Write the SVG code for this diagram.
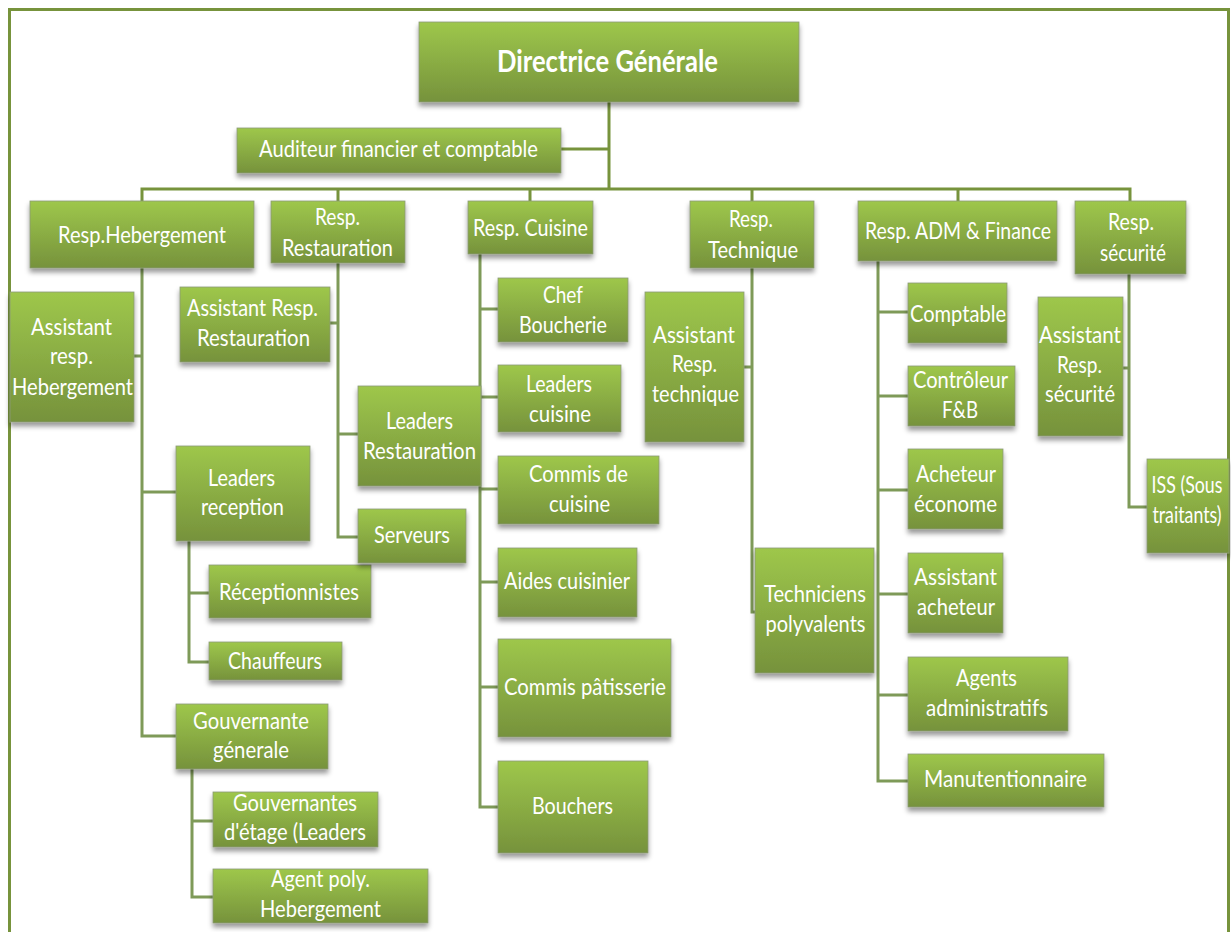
<svg xmlns="http://www.w3.org/2000/svg" width="1231" height="932" viewBox="0 0 1231 932">
<defs>
<linearGradient id="g" x1="0" y1="0" x2="0" y2="1">
<stop offset="0" stop-color="#9EC74B"/>
<stop offset="1" stop-color="#76923C"/>
</linearGradient>
<filter id="sh" x="-10%" y="-10%" width="120%" height="140%">
<feDropShadow dx="0" dy="4" stdDeviation="2.5" flood-color="#000" flood-opacity="0.4"/>
</filter>
<style>
.b{fill:url(#g);stroke:#8C9A78;stroke-width:0.8;filter:url(#sh)}
.t{font-family:Lato,"Liberation Sans",sans-serif;font-size:24px;fill:#fff;text-anchor:middle}
.c{fill:none;stroke:#7E9A58;stroke-width:3}
.m{fill:none;stroke:#77933C;stroke-width:3}
</style>
</defs>
<rect x="0" y="0" width="1231" height="932" fill="#fff"/>
<rect x="9.5" y="9.5" width="1219" height="960" fill="none" stroke="#77933C" stroke-width="3"/>
<g id="connectors">
<path class="m" d="M609,102 V189 M561,149 H609 M142,201 V189 H1130 V201 M338,189 V201 M530,189 V201 M752,189 V201 M958,189 V201"/>
<path class="c" d="M142,268 V736 H176 M134,356 H142 M142,492 H176"/>
<path class="c" d="M189,541 V662 H209 M189,593 H209"/>
<path class="c" d="M192,769 V897 H213 M192,821 H213"/>
<path class="c" d="M338,263 V537 H358 M330,323 H338 M338,434 H358"/>
<path class="c" d="M480,254 V807 H498 M480,309 H498 M480,397 H498 M480,489 H498 M480,582 H498 M480,687 H498"/>
<path class="c" d="M752,268 V612 H755 M744,367 H752"/>
<path class="c" d="M878,261 V781 H908 M878,312 H908 M878,396 H908 M878,490 H908 M878,594 H908 M878,695 H908"/>
<path class="c" d="M1129,274 V507 H1147 M1123,368 H1129"/>
</g>
<g id="dg"><rect class="b" x="419" y="22" width="380" height="80"/><text class="t" x="607.5" y="72" style="font-weight:bold;font-size:30px" textLength="221" lengthAdjust="spacingAndGlyphs">Directrice Générale</text></g>
<g id="auditeur"><rect class="b" x="237" y="128" width="324" height="45"/><text class="t" x="398.5" y="157" textLength="279" lengthAdjust="spacingAndGlyphs">Auditeur financier et comptable</text></g>
<g id="resp-heb"><rect class="b" x="30" y="201" width="224" height="67"/><text class="t" x="142" y="243" textLength="168" lengthAdjust="spacingAndGlyphs">Resp.Hebergement</text></g>
<g id="resp-rest"><rect class="b" x="271" y="201" width="134" height="62"/><text class="t" x="337.5" y="225" textLength="45" lengthAdjust="spacingAndGlyphs">Resp.</text><text class="t" x="337.5" y="256" textLength="111" lengthAdjust="spacingAndGlyphs">Restauration</text></g>
<g id="resp-cuis"><rect class="b" x="468" y="201" width="125" height="53"/><text class="t" x="530.5" y="236" textLength="115" lengthAdjust="spacingAndGlyphs">Resp. Cuisine</text></g>
<g id="resp-tech"><rect class="b" x="690" y="201" width="124" height="67"/><text class="t" x="751" y="227" textLength="44" lengthAdjust="spacingAndGlyphs">Resp.</text><text class="t" x="753" y="258" textLength="90" lengthAdjust="spacingAndGlyphs">Technique</text></g>
<g id="resp-adm"><rect class="b" x="858" y="201" width="199" height="60"/><text class="t" x="958" y="239" textLength="186" lengthAdjust="spacingAndGlyphs">Resp. ADM &amp; Finance</text></g>
<g id="resp-sec"><rect class="b" x="1075" y="201" width="111" height="73"/><text class="t" x="1131" y="230" textLength="46" lengthAdjust="spacingAndGlyphs">Resp.</text><text class="t" x="1133" y="261" textLength="66" lengthAdjust="spacingAndGlyphs">sécurité</text></g>
<g id="asst-heb"><rect class="b" x="10" y="292" width="124" height="130"/><text class="t" x="71.5" y="335" textLength="81" lengthAdjust="spacingAndGlyphs">Assistant</text><text class="t" x="71.5" y="364" textLength="43" lengthAdjust="spacingAndGlyphs">resp.</text><text class="t" x="72.5" y="395" textLength="121" lengthAdjust="spacingAndGlyphs">Hebergement</text></g>
<g id="leaders-rec"><rect class="b" x="176" y="446" width="134" height="95"/><text class="t" x="241.5" y="486" textLength="67" lengthAdjust="spacingAndGlyphs">Leaders</text><text class="t" x="242.5" y="515" textLength="83" lengthAdjust="spacingAndGlyphs">reception</text></g>
<g id="receptionnistes"><rect class="b" x="209" y="565" width="162" height="53"/><text class="t" x="289" y="600" textLength="140" lengthAdjust="spacingAndGlyphs">Réceptionnistes</text></g>
<g id="chauffeurs"><rect class="b" x="209" y="642" width="133" height="38"/><text class="t" x="275" y="669" textLength="94" lengthAdjust="spacingAndGlyphs">Chauffeurs</text></g>
<g id="gouv-gen"><rect class="b" x="176" y="704" width="152" height="65"/><text class="t" x="251" y="729" textLength="116" lengthAdjust="spacingAndGlyphs">Gouvernante</text><text class="t" x="251" y="758" textLength="76" lengthAdjust="spacingAndGlyphs">génerale</text></g>
<g id="gouv-etage"><rect class="b" x="213" y="792" width="165" height="55"/><text class="t" x="295" y="811" textLength="124" lengthAdjust="spacingAndGlyphs">Gouvernantes</text><text class="t" x="295" y="840" textLength="142" lengthAdjust="spacingAndGlyphs">d'étage (Leaders</text></g>
<g id="agent-poly"><rect class="b" x="213" y="869" width="215" height="54"/><text class="t" x="320.5" y="887" textLength="99" lengthAdjust="spacingAndGlyphs">Agent poly.</text><text class="t" x="320.5" y="917" textLength="121" lengthAdjust="spacingAndGlyphs">Hebergement</text></g>
<g id="asst-rest"><rect class="b" x="180" y="287" width="150" height="75"/><text class="t" x="252.5" y="316" textLength="131" lengthAdjust="spacingAndGlyphs">Assistant Resp.</text><text class="t" x="253.5" y="346" textLength="113" lengthAdjust="spacingAndGlyphs">Restauration</text></g>
<g id="leaders-rest"><rect class="b" x="358" y="386" width="123" height="100"/><text class="t" x="419.5" y="429" textLength="67" lengthAdjust="spacingAndGlyphs">Leaders</text><text class="t" x="419.5" y="459" textLength="113" lengthAdjust="spacingAndGlyphs">Restauration</text></g>
<g id="serveurs"><rect class="b" x="358" y="509" width="108" height="54"/><text class="t" x="412" y="543" textLength="76" lengthAdjust="spacingAndGlyphs">Serveurs</text></g>
<g id="chef-bouch"><rect class="b" x="498" y="278" width="130" height="64"/><text class="t" x="563" y="303" textLength="40" lengthAdjust="spacingAndGlyphs">Chef</text><text class="t" x="563" y="333" textLength="88" lengthAdjust="spacingAndGlyphs">Boucherie</text></g>
<g id="leaders-cuis"><rect class="b" x="498" y="365" width="123" height="67"/><text class="t" x="559" y="392" textLength="66" lengthAdjust="spacingAndGlyphs">Leaders</text><text class="t" x="560" y="422" textLength="62" lengthAdjust="spacingAndGlyphs">cuisine</text></g>
<g id="commis-cuis"><rect class="b" x="498" y="456" width="161" height="68"/><text class="t" x="578.5" y="482" textLength="99" lengthAdjust="spacingAndGlyphs">Commis de</text><text class="t" x="579.5" y="512" textLength="61" lengthAdjust="spacingAndGlyphs">cuisine</text></g>
<g id="aides-cuis"><rect class="b" x="498" y="548" width="139" height="69"/><text class="t" x="567" y="589" textLength="126" lengthAdjust="spacingAndGlyphs">Aides cuisinier</text></g>
<g id="commis-pat"><rect class="b" x="498" y="639" width="173" height="98"/><text class="t" x="585" y="695" textLength="162" lengthAdjust="spacingAndGlyphs">Commis pâtisserie</text></g>
<g id="bouchers"><rect class="b" x="498" y="761" width="150" height="92"/><text class="t" x="572.5" y="814" textLength="81" lengthAdjust="spacingAndGlyphs">Bouchers</text></g>
<g id="asst-tech"><rect class="b" x="645" y="292" width="99" height="150"/><text class="t" x="694" y="343" textLength="82" lengthAdjust="spacingAndGlyphs">Assistant</text><text class="t" x="694.5" y="372" textLength="45" lengthAdjust="spacingAndGlyphs">Resp.</text><text class="t" x="695.5" y="402" textLength="87" lengthAdjust="spacingAndGlyphs">technique</text></g>
<g id="techniciens"><rect class="b" x="755" y="548" width="119" height="125"/><text class="t" x="815" y="602" textLength="102" lengthAdjust="spacingAndGlyphs">Techniciens</text><text class="t" x="815.5" y="632" textLength="100" lengthAdjust="spacingAndGlyphs">polyvalents</text></g>
<g id="comptable"><rect class="b" x="908" y="283" width="99" height="60"/><text class="t" x="958" y="322" textLength="96" lengthAdjust="spacingAndGlyphs">Comptable</text></g>
<g id="controleur"><rect class="b" x="908" y="366" width="107" height="60"/><text class="t" x="960.5" y="388" textLength="95" lengthAdjust="spacingAndGlyphs">Contrôleur</text><text class="t" x="960" y="418" textLength="36" lengthAdjust="spacingAndGlyphs">F&amp;B</text></g>
<g id="acheteur"><rect class="b" x="908" y="449" width="95" height="80"/><text class="t" x="956" y="482" textLength="80" lengthAdjust="spacingAndGlyphs">Acheteur</text><text class="t" x="955.5" y="512" textLength="83" lengthAdjust="spacingAndGlyphs">économe</text></g>
<g id="asst-achet"><rect class="b" x="908" y="553" width="95" height="80"/><text class="t" x="955.5" y="585" textLength="83" lengthAdjust="spacingAndGlyphs">Assistant</text><text class="t" x="956" y="615" textLength="78" lengthAdjust="spacingAndGlyphs">acheteur</text></g>
<g id="agents-adm"><rect class="b" x="908" y="657" width="160" height="74"/><text class="t" x="986.5" y="686" textLength="61" lengthAdjust="spacingAndGlyphs">Agents</text><text class="t" x="987" y="716" textLength="122" lengthAdjust="spacingAndGlyphs">administratifs</text></g>
<g id="manut"><rect class="b" x="908" y="754" width="196" height="53"/><text class="t" x="1005.5" y="787" textLength="163" lengthAdjust="spacingAndGlyphs">Manutentionnaire</text></g>
<g id="asst-sec"><rect class="b" x="1038" y="297" width="85" height="139"/><text class="t" x="1080" y="343" textLength="82" lengthAdjust="spacingAndGlyphs">Assistant</text><text class="t" x="1079.5" y="373" textLength="45" lengthAdjust="spacingAndGlyphs">Resp.</text><text class="t" x="1080" y="402" textLength="70" lengthAdjust="spacingAndGlyphs">sécurité</text></g>
<g id="iss"><rect class="b" x="1147" y="459" width="82" height="94"/><g transform="translate(1187,0) scale(0.74,1)"><text class="t" x="0" y="493">ISS (Sous</text><text class="t" x="0" y="523">traitants)</text></g></g>
</svg>
